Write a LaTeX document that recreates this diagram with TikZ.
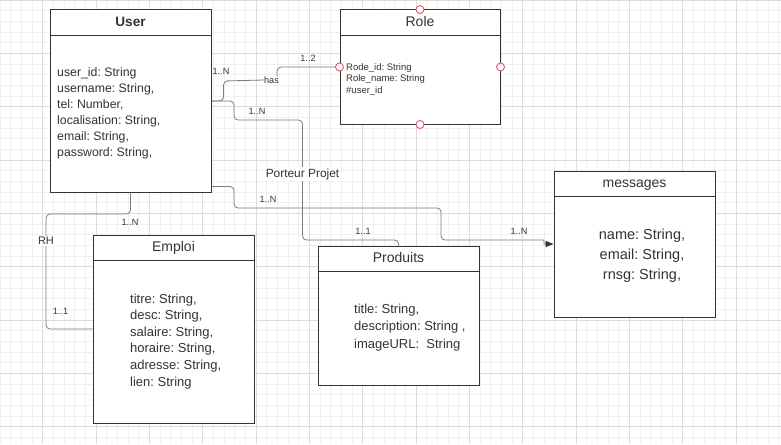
\documentclass[tikz,border=0pt]{standalone}
\usepackage{fontspec}
\setmainfont{Liberation Sans}
\usetikzlibrary{arrows.meta}
\frenchspacing

\definecolor{gridminor}{HTML}{F0F0F0}
\definecolor{gridmajor}{HTML}{DCDCDC}
\definecolor{boxc}{HTML}{333333}
\definecolor{linec}{HTML}{7A7A7A}
\definecolor{txtc}{HTML}{333333}
\definecolor{pinc}{HTML}{E9546B}

\begin{document}
\begin{tikzpicture}[x=1pt, y=-1pt, >={Triangle[length=8pt,width=6pt,color=boxc]},
  entity/.style={draw=boxc, fill=white, line width=1pt, minimum width=161pt, inner sep=0pt},
  ttl/.style={text=txtc, inner sep=0pt, text height=10pt, text depth=0pt, font=\fontsize{14}{16}\selectfont},
  attr/.style={text=txtc, align=left, anchor=west, inner sep=0pt},
  conn/.style={draw=linec, line width=0.8pt, rounded corners=4pt},
  card/.style={text=txtc, inner sep=0pt, font=\fontsize{9.1}{10}\selectfont},
  rolelbl/.style={text=txtc, fill=white, inner sep=1pt},
  pin/.style={circle, draw=pinc, fill=white, line width=0.9pt, minimum size=8pt, inner sep=0pt}]

\useasboundingbox (0,0) rectangle (781,444);
% grid paper
\foreach \i in {0,...,73} \draw[gridminor, line width=0.8pt] (\i*10.667,0) -- (\i*10.667,444);
\foreach \j in {0,...,41} \draw[gridminor, line width=0.8pt] (0,\j*10.667) -- (781,\j*10.667);
\foreach \i in {4,9,...,73} \draw[gridmajor, line width=0.8pt] (\i*10.667,0) -- (\i*10.667,444);
\foreach \j in {0,5,...,40} \draw[gridmajor, line width=0.8pt] (0,\j*10.667) -- (781,\j*10.667);

% entities
\node[entity, minimum height=182pt] (user) at (130.5,101) {};
\node[entity, minimum width=160pt, minimum height=114pt] (role) at (420,67) {};
\node[entity, minimum height=188pt] (emploi) at (173.5,329) {};
\node[entity, minimum height=139pt] (produits) at (398.5,315.5) {};
\node[entity, minimum height=146pt] (messages) at (634.5,244) {};
\foreach \e in {user,role,emploi,produits,messages}
  \draw[boxc, line width=1pt] ([yshift=-26pt]\e.north west) -- ([yshift=-26pt]\e.north east);

\node[ttl, font=\bfseries\fontsize{13.6}{16}\selectfont] (usertitle) at ([yshift=-12pt]user.north) {User};
\node[ttl] (roletitle) at ([yshift=-12pt]role.north) {Role};
\node[ttl] (emploititle) at ([yshift=-12pt]emploi.north) {Emploi};
\node[ttl] (produitstitle) at ([yshift=-12pt]produits.north) {Produits};
\node[ttl] (messagestitle) at ([yshift=-12pt]messages.north) {messages};

\node[attr, font=\fontsize{12.3}{16}\selectfont] (userattr) at (57,113.8)
  {user\_id: String\\username: String,\\tel: Number,\\localisation: String,\\email: String,\\password: String,};
\node[attr, font=\fontsize{9.5}{11.7}\selectfont] (roleattr) at (346,79.5)
  {Rode\_id: String\\Role\_name: String\\\#user\_id};
\node[attr, font=\fontsize{13}{16.6}\selectfont] (emploiattr) at (130,341.3)
  {titre: String,\\desc: String,\\salaire: String,\\horaire: String,\\adresse: String,\\lien: String};
\node[attr, font=\fontsize{13}{17.5}\selectfont] (produitsattr) at (354,327.2)
  {title: String,\\description: String ,\\imageURL:\ \ String};
\node[attr, align=center, anchor=center, font=\fontsize{14.5}{20}\selectfont] (messagesattr) at (642,256.2)
  {name: String,\\email: String,\\rnsg: String,};

% role ports
\node[pin] (rolen) at (role.north) {};
\node[pin] (rolew) at (role.west) {};
\node[pin] (rolee) at (role.east) {};
\node[pin] (roles) at (role.south) {};

% relations
\node[card] (has) at (271.5,80) {has};
\draw[conn] (user.east) -| (223.5,81) -- (has.west);
\draw[conn] ([xshift=-2pt]has.north east) |- (rolew.west);
\draw[conn] (user.east) -| (234,120) -| (302.5,240) -| (produits.north);
\draw[conn, ->] ([yshift=6pt]user.south east) -| (234,208) -| (441,240) [sharp corners] -- (544,240) -- (544,244) -- (messages.west);
\draw[conn] (user.south) |- (46,214) |- (emploi.west);

\node[rolelbl, font=\fontsize{11.9}{13}\selectfont] (porteur) at (302.5,174) {Porteur Projet};
\node[rolelbl, font=\fontsize{11}{13}\selectfont] (rh) at (46,241) {RH};
\node[card] (card1) at (221,71.5) {1..N};
\node[card] (card2) at (308,58.5) {1..2};
\node[card] (card3) at (257,111.5) {1..N};
\node[card] (card4) at (363,231.5) {1..1};
\node[card] (card5) at (268,199.5) {1..N};
\node[card] (card6) at (519,231.5) {1..N};
\node[card] (card7) at (130,222.5) {1..N};
\node[card] (card8) at (60.5,311.5) {1..1};
\end{tikzpicture}
\end{document}
